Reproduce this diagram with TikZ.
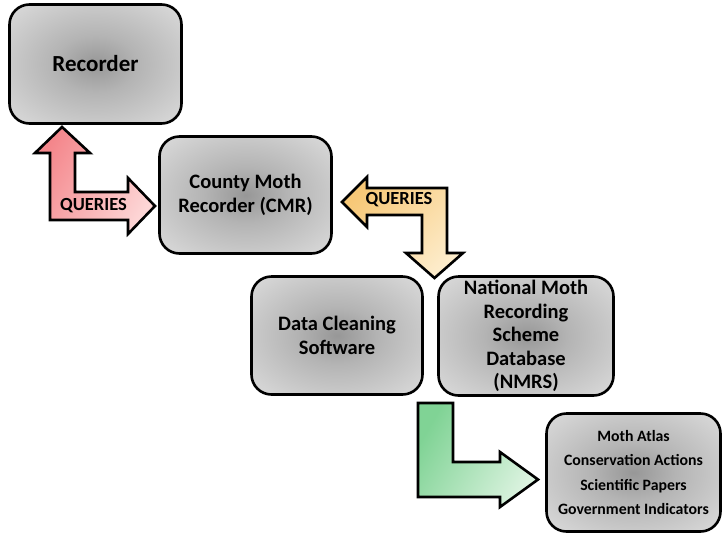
\documentclass[tikz,border=0pt]{standalone}
\usepackage{fontspec}
\setmainfont{Carlito}
\definecolor{bxin}{HTML}{979797}
\definecolor{bxmid}{HTML}{B4B4B4}
\definecolor{bxout}{HTML}{E3E3E3}
\definecolor{bxedge}{HTML}{EBEBEB}
\definecolor{bxcorner}{HTML}{F8F8F8}
\definecolor{redA}{HTML}{F4868B}
\definecolor{redB}{HTML}{FDD6D6}
\definecolor{yelA}{HTML}{F7C877}
\definecolor{yelB}{HTML}{FDECCB}
\definecolor{grnA}{HTML}{80D395}
\definecolor{grnB}{HTML}{DCF3E0}
\pgfdeclareradialshading{boxshade}{\pgfpoint{0bp}{0bp}}{color(0bp)=(bxin); color(12bp)=(bxmid); color(40bp)=(bxout); color(50bp)=(bxedge); color(70bp)=(bxcorner)}
\tikzset{
  box/.style={draw, line width=2.6pt, rounded corners=20pt, shading=boxshade, align=center,
    inner sep=0pt, font=\bfseries\fontsize{20.5}{23.5}\selectfont},
  blockarrow/.style={draw, line width=2.6pt, line join=miter},
  qlabel/.style={font=\bfseries\fontsize{18.5}{20}\selectfont, inner sep=0pt}
}
\begin{document}
\begin{tikzpicture}[x=1pt,y=-1pt]
\useasboundingbox (0,0) rectangle (727,552);
% boxes
\node[box, minimum width=172pt, minimum height=119pt, font=\bfseries\fontsize{23}{26}\selectfont] (rec) at (95.5,64) {Recorder};
\node[box, minimum width=172pt, minimum height=117pt] (cmr) at (245.5,195) {County Moth\\Recorder (CMR)};
\node[box, minimum width=171pt, minimum height=118pt] (dcs) at (337,335.5) {Data Cleaning\\Software};
\node[box, minimum width=175pt, minimum height=119pt] (nmrs) at (526,336) {National Moth\\Recording\\Scheme\\Database\\(NMRS)};
\node[box, minimum width=174pt, minimum height=118pt, font=\bfseries\fontsize{15.8}{24.5}\selectfont] (out) at (633.5,472.5) {Moth Atlas\\Conservation Actions\\Scientific Papers\\Government Indicators};
% red arrow
\draw[blockarrow, top color=redA, bottom color=redB, shading angle=60]
  (62,127) -- (90,153) -- (75,153) -- (75,192) -- (128,192) -- (128,178) -- (155,206)
  -- (128,234) -- (128,220) -- (50,220) -- (50,153) -- (35,153) -- cycle;
\node[qlabel] (q1) at (93.5,206) {QUERIES};
% yellow arrow
\draw[blockarrow, top color=yelA, bottom color=yelB, shading angle=45]
  (342,202) -- (367,177) -- (367,188) -- (447,188) -- (447,253) -- (463,253) -- (434.5,278)
  -- (406,253) -- (422,253) -- (422,215) -- (367,215) -- (367,227) -- cycle;
\node[qlabel] (q2) at (399,200) {QUERIES};
% green arrow
\draw[blockarrow, top color=grnA, bottom color=grnB, shading angle=60]
  (418,403) -- (453,403) -- (453,462) -- (500,462) -- (500,452) -- (538,479.5)
  -- (500,507) -- (500,497) -- (418,497) -- cycle;
\end{tikzpicture}
\end{document}
